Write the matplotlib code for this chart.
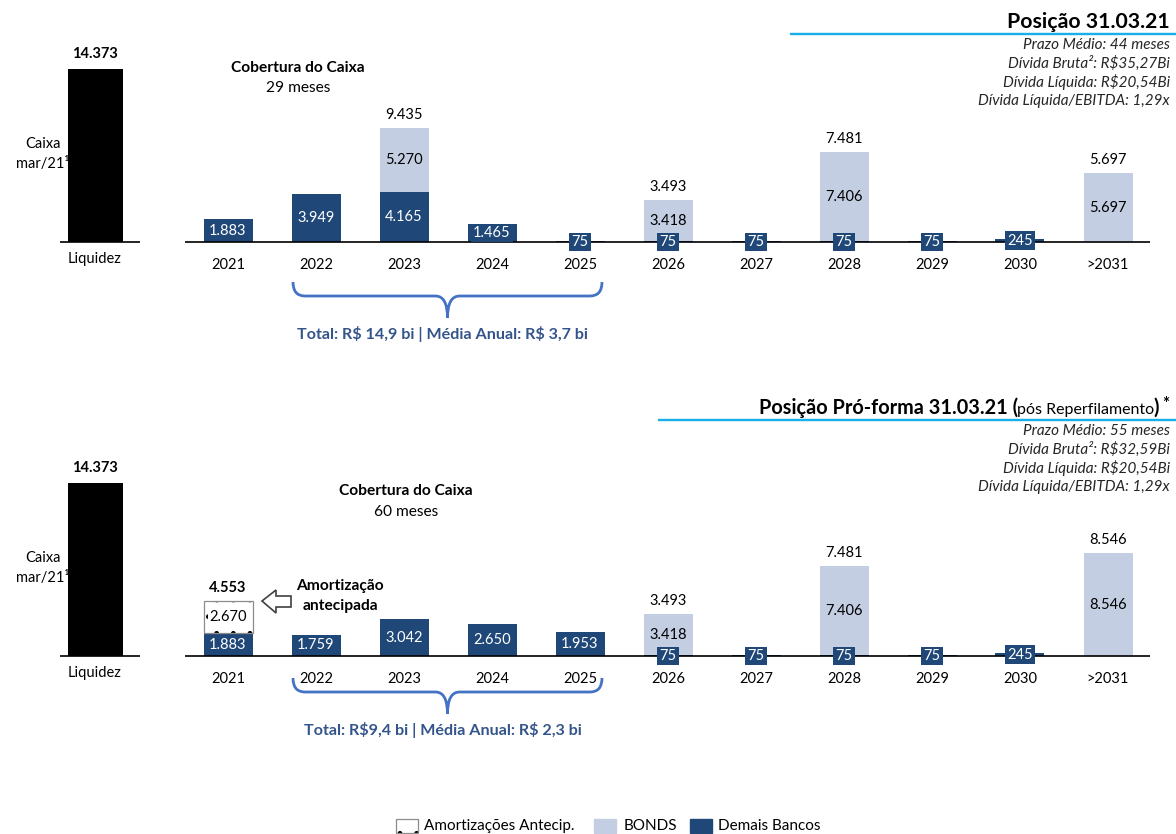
import numpy as np
import matplotlib.pyplot as plt
from matplotlib.patches import Rectangle, Polygon, PathPatch
from matplotlib.path import Path

plt.rcParams['font.family'] = ['Lato', 'DejaVu Sans']
plt.rcParams['hatch.linewidth'] = 1.0
plt.rcParams['text.parse_math'] = False

# ---- data ----
years = ['2021', '2022', '2023', '2024', '2025', '2026', '2027', '2028', '2029', '2030', '>2031']
caixa = 14373

top_bancos = [1883, 3949, 4165, 1465, 75, 75, 75, 75, 75, 245, 0]
top_bonds = [0, 0, 5270, 0, 0, 3418, 0, 7406, 0, 0, 5697]

bot_bancos = [1883, 1759, 3042, 2650, 1953, 75, 75, 75, 75, 245, 0]
bot_bonds = [0, 0, 0, 0, 0, 3418, 0, 7406, 0, 0, 8546]
bot_antecip = [2670, 0, 0, 0, 0, 0, 0, 0, 0, 0, 0]

top_info = ['Prazo Médio: 44 meses', 'Dívida Bruta²: R$35,27Bi',
            'Dívida Líquida: R$20,54Bi', 'Dívida Líquida/EBITDA: 1,29x']
bot_info = ['Prazo Médio: 55 meses', 'Dívida Bruta²: R$32,59Bi',
            'Dívida Líquida: R$20,54Bi', 'Dívida Líquida/EBITDA: 1,29x']

DARK = '#1f4878'
LIGHT = '#c3cee2'
BRACE = '#4472c4'
TXTBLUE = '#34558b'

W, H = 1176, 834
fig = plt.figure(figsize=(W / 100, H / 100), dpi=100)


def fx(x):
    return x / W


def fy(y):
    return 1 - y / H


def ftext(x, y, s, **kw):
    return fig.text(fx(x), fy(y), s, **kw)


def fmt(v):
    return f'{v:,}'.replace(',', '.')


# pixel scale of bars: liquidez bar ~173 px tall
scale = 173 / caixa
x0, dx = 228, 88
xlim = (-x0 / dx, (W - x0) / dx)
liq_x = (95 - x0) / dx


def dotted_bar(ax, x, h, bottom, bw):
    ax.bar(x, h, width=bw, bottom=bottom, facecolor='white', edgecolor='black',
           hatch='.', lw=0)
    ax.bar(x, h, width=bw, bottom=bottom, facecolor='none', edgecolor='#8c8c8c', lw=0.9)


def panel(top_px, bot_px, base_px, bancos, bonds, antecip=None):
    ax = fig.add_axes([0, fy(bot_px), 1, (bot_px - top_px) / H])
    ax.set_xlim(*xlim)
    ax.set_ylim(-(bot_px - base_px) / scale, (base_px - top_px) / scale)
    ax.axis('off')
    x = np.arange(len(years))
    bw = 49 / dx
    bancos = np.array(bancos)
    bonds = np.array(bonds)
    # liquidez bar
    ax.bar(liq_x, caixa, width=55 / dx, color='black')
    ax.text(liq_x, caixa + 8 / scale, fmt(caixa), ha='center', va='bottom',
            fontsize=10.5, fontweight='bold')
    ax.text(liq_x, -10 / scale, 'Liquidez', ha='center', va='top', fontsize=10.5)
    ax.text((43 - x0) / dx, 88 / scale, 'Caixa\nmar/21¹', ha='center', va='center',
            fontsize=10.5, linespacing=1.5)
    ax.hlines(0, (60 - x0) / dx, (140 - x0) / dx, color='black', lw=1.2)
    ax.hlines(0, (185 - x0) / dx, (1150 - x0) / dx, color='black', lw=1.2)

    ax.bar(x, bancos, width=bw, color=DARK)
    ax.bar(x, bonds, width=bw, bottom=bancos, color=LIGHT)
    stack = bancos + bonds
    if antecip is not None:
        antecip = np.array(antecip)
        for i in np.where(antecip > 0)[0]:
            dotted_bar(ax, i, antecip[i], stack[i], bw)
            ax.text(i, stack[i] + antecip[i] / 2, fmt(antecip[i]),
                    ha='center', va='center', fontsize=10.5,
                    bbox=dict(facecolor='white', edgecolor='none', pad=1.0))
            total = stack[i] + antecip[i]
            ax.text(i, total + 6 / scale, fmt(total), ha='center',
                    va='bottom', fontsize=10.5, fontweight='bold')
    for i in x:
        if bancos[i] > 0:
            ax.text(i, bancos[i] / 2, fmt(bancos[i]), ha='center',
                    va='center', color='white', fontsize=10.5,
                    bbox=dict(facecolor=DARK, edgecolor='none', pad=1.5))
        if bonds[i] > 0:
            ax.text(i, bancos[i] + bonds[i] / 2, fmt(bonds[i]),
                    ha='center', va='center', fontsize=10.5)
            ax.text(i, stack[i] + 6 / scale, fmt(stack[i]),
                    ha='center', va='bottom', fontsize=10.5)
        ax.text(i, -16 / scale, years[i], ha='center', va='top', fontsize=10.5)
    return ax


def brace(xl, xr, ytop, label):
    xm = (xl + xr) / 2
    yh = ytop + 14
    tip = ytop + 36
    r = 12
    verts = [(xl, ytop), (xl, yh), (xl + r, yh),
             (xm - r, yh), (xm, yh), (xm, tip),
             (xm, yh), (xm + r, yh),
             (xr - r, yh), (xr, yh), (xr, ytop)]
    codes = [Path.MOVETO, Path.CURVE3, Path.CURVE3,
             Path.LINETO, Path.CURVE3, Path.CURVE3,
             Path.CURVE3, Path.CURVE3,
             Path.LINETO, Path.CURVE3, Path.CURVE3]
    verts = [(fx(a), fy(b)) for a, b in verts]
    fig.patches.append(PathPatch(Path(verts, codes), transform=fig.transFigure,
                                 facecolor='none', edgecolor=BRACE, lw=2))
    ftext(xm - 5, tip + 16, label, ha='center', va='center', fontsize=11.6,
          fontweight='bold', color=TXTBLUE)


def header(y, line_x, info):
    fig.patches.append(Rectangle((fx(line_x), fy(y + 12)), 1 - fx(line_x), 1.5 / H,
                                 transform=fig.transFigure, color='#19aee8'))
    for k, s in enumerate(info):
        ftext(1170, y + 23 + 18.5 * k, s, ha='right', va='center', fontsize=11,
              style='italic', color='#262626')


# ---- top panel ----
panel(0, 417, 242, top_bancos, top_bonds)
ftext(1170, 28, 'Posição 31.03.21', ha='right', va='baseline', fontsize=15.3, fontweight='bold')
header(22, 790, top_info)
ftext(298, 68, 'Cobertura do Caixa', ha='center', va='center', fontsize=11.2, fontweight='bold')
ftext(298, 88, '29 meses', ha='center', va='center', fontsize=11.2)
brace(293, 602, 282, 'Total: R$ 14,9 bi | Média Anual: R$ 3,7 bi')

# ---- bottom panel ----
panel(417, 834, 656, bot_bancos, bot_bonds, bot_antecip)
ftext(1169, 409, '*', ha='right', va='baseline', fontsize=12, fontweight='bold')
ftext(1159, 414, ')', ha='right', va='baseline', fontsize=14.3, fontweight='bold')
ftext(1154, 414, 'pós Reperfilamento', ha='right', va='baseline', fontsize=11.5)
ftext(1018, 414, 'Posição Pró-forma 31.03.21 (', ha='right', va='baseline', fontsize=14.3,
      fontweight='bold')
header(408, 658, bot_info)
ftext(406, 491, 'Cobertura do Caixa', ha='center', va='center', fontsize=11.2, fontweight='bold')
ftext(406, 512, '60 meses', ha='center', va='center', fontsize=11.2)
brace(293, 602, 678, 'Total: R$9,4 bi | Média Anual: R$ 2,3 bi')

# hollow arrow "Amortização antecipada"
arrow = [(262, 601), (276, 590), (276, 596), (291, 596), (291, 607), (276, 607), (276, 613)]
fig.patches.append(Polygon([(fx(a), fy(b)) for a, b in arrow], closed=True,
                           transform=fig.transFigure, facecolor='white',
                           edgecolor='#404040', lw=1.2))
ftext(340, 586, 'Amortização', ha='center', va='center', fontsize=11.2, fontweight='bold')
ftext(340, 606, 'antecipada', ha='center', va='center', fontsize=11.2, fontweight='bold')

# ---- legend ----
ly = 826
for hatch, ec, fc, lw in [('.', 'black', 'white', 0), (None, '#8c8c8c', 'none', 0.9)]:
    fig.patches.append(Rectangle((fx(396), fy(ly + 7)), 22 / W, 14 / H,
                                 transform=fig.transFigure, facecolor=fc,
                                 edgecolor=ec, hatch=hatch, lw=lw))
ftext(424, ly, 'Amortizações Antecip.', ha='left', va='center', fontsize=11)
fig.patches.append(Rectangle((fx(594), fy(ly + 7)), 22 / W, 14 / H, transform=fig.transFigure,
                             color=LIGHT))
ftext(624, ly, 'BONDS', ha='left', va='center', fontsize=11)
fig.patches.append(Rectangle((fx(690), fy(ly + 7)), 22 / W, 14 / H, transform=fig.transFigure,
                             color=DARK))
ftext(718, ly, 'Demais Bancos', ha='left', va='center', fontsize=11)

fig.savefig('out.png', dpi=100)
